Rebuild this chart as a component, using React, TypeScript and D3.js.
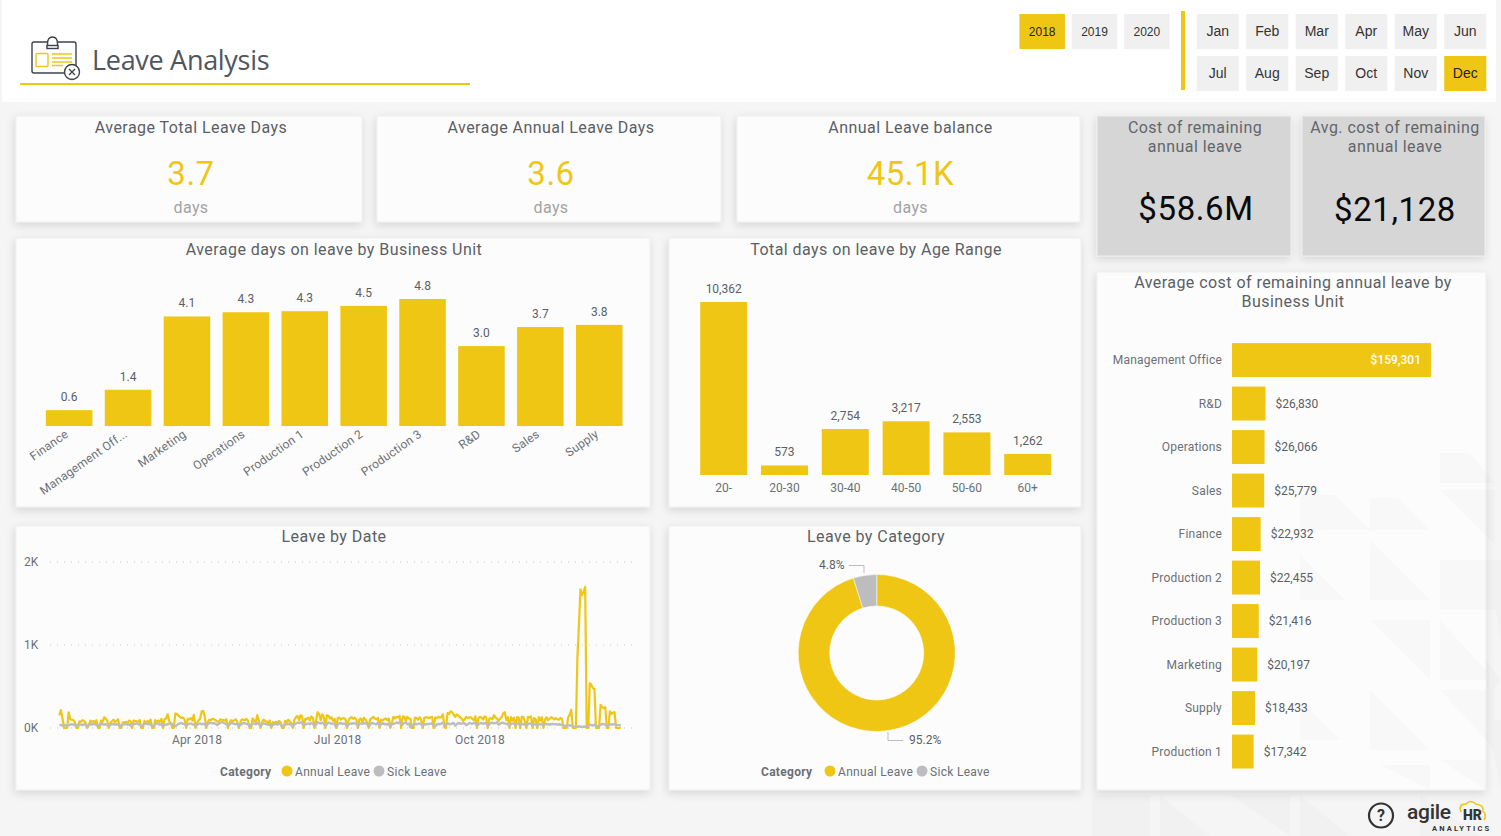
import React from 'react';
import * as d3 from 'd3';

const YELLOW = '#f0c614';
const GREY = '#bdbdbd';
const TEXT = '#5a5f66';
const LABEL = '#6b7076';
const FONT = 'Roboto, sans-serif';

const years = ['2018', '2019', '2020'];
const monthsTop = ['Jan', 'Feb', 'Mar', 'Apr', 'May', 'Jun'];
const monthsBottom = ['Jul', 'Aug', 'Sep', 'Oct', 'Nov', 'Dec'];

const units = ['Finance', 'Management Off...', 'Marketing', 'Operations', 'Production 1', 'Production 2', 'Production 3', 'R&D', 'Sales', 'Supply'];
const unitDays = [0.6, 1.37, 4.14, 4.3, 4.34, 4.54, 4.8, 3.02, 3.74, 3.82];

const ageRanges = ['20-', '20-30', '30-40', '40-50', '50-60', '60+'];
const ageDays = [10362, 573, 2754, 3217, 2553, 1262];

const costUnits = ['Management Office', 'R&D', 'Operations', 'Sales', 'Finance', 'Production 2', 'Production 3', 'Marketing', 'Supply', 'Production 1'];
const costValues = [159301, 26830, 26066, 25779, 22932, 22455, 21416, 20197, 18433, 17342];

const categories = ['Annual Leave', 'Sick Leave'];
const categoryShare = [95.2, 4.8];

const dateTicks = ['2018-04-01', '2018-07-01', '2018-10-01'];

// daily values from 2 Jan 2018, one row per week
const annualLeave = [
  150, 215, 120, 0, 0, 0,
  190, 105, 100, 95, 70, 0, 0,
  80, 75, 95, 85, 60, 0, 30,
  90, 75, 85, 60, 95, 0, 0,
  90, 75, 130, 110, 90, 0, 60,
  80, 100, 70, 85, 105, 0, 0,
  65, 70, 75, 60, 90, 80, 0,
  90, 85, 80, 75, 95, 0, 0,
  85, 60, 85, 70, 100, 0, 0,
  95, 70, 90, 75, 110, 0, 105,
  115, 165, 80, 60, 0, 0, 175,
  170, 150, 135, 120, 125, 100, 0,
  110, 105, 120, 90, 160, 0, 60,
  90, 110, 200, 205, 140, 0, 70,
  100, 95, 110, 105, 95, 80, 70,
  105, 100, 95, 90, 105, 0, 60,
  95, 85, 90, 105, 75, 0, 65,
  105, 100, 95, 110, 85, 0, 0,
  115, 90, 75, 155, 80, 0, 65,
  100, 85, 75, 55, 90, 0, 70,
  60, 75, 65, 85, 70, 0, 0,
  85, 70, 100, 75, 60, 0, 100,
  130, 145, 95, 155, 140, 0, 110,
  110, 125, 90, 140, 120, 0, 90,
  190, 170, 95, 165, 130, 0, 155,
  145, 115, 130, 85, 110, 0, 120,
  125, 100, 115, 120, 105, 0, 95,
  120, 130, 110, 125, 105, 0, 100,
  115, 70, 125, 100, 70, 0, 105,
  120, 135, 115, 105, 120, 0, 100,
  90, 105, 115, 95, 115, 0, 60,
  135, 115, 135, 125, 145, 0, 140,
  135, 90, 135, 115, 110, 0, 0,
  125, 120, 100, 130, 95, 0, 120,
  130, 125, 120, 130, 135, 0, 125,
  120, 135, 125, 130, 165, 10, 0,
  180, 170, 200, 190, 160, 135, 165,
  150, 130, 115, 85, 100, 135, 120,
  125, 130, 110, 95, 140, 0, 120,
  135, 125, 100, 140, 130, 0, 110,
  120, 105, 155, 125, 115, 85, 110,
  130, 175, 190, 95, 130, 0, 130,
  90, 125, 0, 130, 125, 0, 135,
  135, 80, 0, 135, 125, 140, 0,
  120, 105, 0, 130, 90, 130, 0,
  100, 130, 95, 110, 130, 120, 105,
  120, 105, 100, 120, 110, 0, 0,
  0, 130, 160, 220, 0, 0, 0,
  860, 1250, 1670, 1600, 1640, 1700, 0,
  0, 540, 520, 480, 470, 0, 0,
  0, 280, 250, 240, 250, 0, 0,
  200, 170, 185, 190, 0, 0, 0, 0,
];
const sickLeave = [
  35, 35, 30, 40, 30, 25,
  35, 40, 45, 40, 35, 25, 40,
  45, 40, 35, 45, 40, 20, 40,
  45, 40, 50, 45, 35, 25, 40,
  50, 45, 40, 45, 35, 25, 40,
  45, 50, 40, 45, 40, 20, 35,
  40, 45, 50, 40, 45, 30, 30,
  45, 50, 55, 45, 40, 25, 35,
  50, 55, 45, 50, 40, 25, 30,
  45, 55, 50, 40, 45, 20, 35,
  40, 45, 50, 55, 50, 30, 20,
  35, 50, 55, 60, 50, 45, 30,
  45, 50, 55, 45, 40, 25, 40,
  50, 55, 45, 50, 45, 25, 45,
  60, 65, 55, 60, 50, 35, 50,
  60, 70, 65, 55, 45, 30, 40,
  55, 60, 50, 45, 55, 25, 35,
  50, 60, 55, 50, 45, 20, 40,
  50, 55, 45, 60, 50, 25, 40,
  55, 50, 45, 40, 45, 15, 35,
  45, 50, 40, 55, 45, 20, 30,
  40, 45, 50, 45, 35, 20, 40,
  55, 65, 60, 70, 55, 30, 45,
  50, 55, 45, 60, 50, 20, 40,
  70, 60, 55, 65, 50, 25, 45,
  65, 60, 50, 55, 45, 15, 40,
  55, 60, 50, 55, 45, 20, 40,
  55, 50, 60, 55, 50, 25, 45,
  55, 50, 60, 55, 45, 20, 40,
  60, 55, 50, 45, 60, 25, 45,
  60, 45, 50, 40, 55, 20, 45,
  50, 55, 65, 60, 70, 55, 40,
  60, 70, 45, 55, 10, 30, 40,
  50, 45, 50, 55, 45, 25, 40,
  45, 50, 45, 55, 50, 30, 20,
  40, 50, 45, 55, 60, 30, 40,
  55, 50, 45, 55, 60, 30, 45,
  60, 55, 50, 60, 55, 35, 45,
  60, 55, 50, 65, 55, 30, 45,
  55, 60, 50, 60, 55, 30, 45,
  60, 65, 55, 60, 70, 40, 50,
  65, 60, 55, 50, 45, 25, 45,
  55, 50, 35, 50, 55, 30, 50,
  45, 40, 30, 45, 55, 50, 30,
  50, 40, 25, 50, 45, 40, 30,
  45, 50, 45, 40, 45, 50, 45,
  45, 40, 45, 40, 40, 30, 25,
  25, 35, 30, 30, 20, 15, 15,
  15, 20, 15, 15, 15, 15, 20,
  25, 40, 35, 30, 40, 25, 20,
  25, 40, 50, 45, 40, 25, 35,
  45, 40, 45, 45, 40, 35, 35, 30,
];

// faint triangles of the page background
const bgTriangles = [
  '1440,453 1470,453 1495,483 1440,483', '1370,498 1398,498 1430,530 1370,530', '1300,495 1335,495 1370,530 1300,530',
  '1370,540 1430,600 1370,600', '1440,490 1495,490 1495,545', '1440,560 1495,560 1495,610 1440,610',
  '1370,620 1430,620 1430,680', '1440,620 1495,680 1440,680', '1370,690 1430,750 1370,750',
  '1440,690 1495,690 1495,750', '1300,555 1345,600 1300,600', '1380,765 1430,765 1430,790',
  '1440,760 1486,760 1486,790', '1300,700 1340,740 1300,740', '1092,795 1150,795 1150,836 1092,836',
  '1160,795 1210,836 1160,836', '1230,795 1290,795 1290,836', '1300,795 1350,836 1300,836',
  '1420,795 1480,836 1420,836', '1486,560 1501,560 1501,640', '1486,660 1501,680 1486,700', '1486,720 1501,720 1501,790',
];

const Card = ({ x, y, w, h, fill = '#fcfcfc' }: { x: number; y: number; w: number; h: number; fill?: string }) => (
  <rect x={x} y={y} width={w} height={h} fill={fill} stroke="#eeeeee" strokeWidth={1} filter="url(#shadow)" />
);

const Title = ({ x, y, children, fill = TEXT, size = 16 }: any) => (
  <text x={x} y={y} textAnchor="middle" fontSize={size} fill={fill} letterSpacing={0.45}>{children}</text>
);

const Kpi = ({ x, w, title, value }: { x: number; w: number; title: string; value: string }) => (
  <g>
    <Card x={x} y={116} w={w} h={106} />
    <Title x={x + w / 2 + 2} y={133}>{title}</Title>
    <text x={x + w / 2 + 2} y={185} textAnchor="middle" fontSize={33} fill={YELLOW} letterSpacing={0.5}>{value}</text>
    <text x={x + w / 2 + 2} y={213} textAnchor="middle" fontSize={16} fill="#a3a3a3" letterSpacing={0.4}>days</text>
  </g>
);

const Button = ({ x, y, w, h, label, on, size }: any) => (
  <g>
    <rect x={x} y={y} width={w} height={h} fill={on ? YELLOW : '#f0f0f0'} />
    <text x={x + w / 2} y={y + h / 2 + (size > 12 ? 4 : 4.3)} textAnchor="middle" fontSize={size} fontFamily="'Liberation Sans', sans-serif" fill={on ? '#222' : '#333'}>{label}</text>
  </g>
);

const Legend = ({ x, y, shift = 0 }: { x: number; y: number; shift?: number }) => {
  const color = d3.scaleOrdinal<string, string>().domain(categories).range([YELLOW, GREY]);
  const offsets = [67 + shift, 159 + shift];
  return (
    <g fontSize={12} fill={LABEL}>
      <text x={x} y={y + 4.5} fontWeight={700} letterSpacing={0.3}>Category</text>
      {categories.map((c, i) => (
        <g key={c}>
          <circle cx={x + offsets[i]} cy={y} r={5.5} fill={color(c)} />
          <text x={x + offsets[i] + 8} y={y + 4.5} letterSpacing={0.3}>{c}</text>
        </g>
      ))}
    </g>
  );
};

export default function App() {
  // Average days by business unit
  const xUnit = d3.scaleBand<string>().domain(units).range([39.7, 628.7]).paddingInner(0.21).paddingOuter(0.105);
  const yUnit = d3.scaleLinear().domain([0, 4.8]).range([426, 299]);

  // Total days by age range
  const xAge = d3.scaleBand<string>().domain(ageRanges).range([693.3, 1058.1]).paddingInner(0.227).paddingOuter(0.113);
  const yAge = d3.scaleLinear().domain([0, 10362]).range([475, 302]);

  // Average cost by business unit
  const yCost = d3.scaleBand<string>().domain(costUnits).range([338.3, 773.3]).paddingInner(0.22).paddingOuter(0.11);
  const xCost = d3.scaleLinear().domain([0, 159301]).range([1232, 1431]);
  const fmtCost = (v: number) => '$' + d3.format(',')(v);

  // Leave by date
  const parse = d3.utcParse('%Y-%m-%d');
  const x0 = parse('2018-01-02') as Date;
  const dayDate = (i: number) => d3.utcDay.offset(x0, i);
  const xDate = d3.scaleUtc().domain([parse('2018-04-01') as Date, parse('2018-10-01') as Date]).range([197, 480]);
  const yLeave = d3.scaleLinear().domain([0, 2000]).range([728, 562]);
  const line = d3.line<number>().x((_, i) => xDate(dayDate(i))).y(d => yLeave(d));
  const fmtTick = d3.utcFormat('%b %Y');

  // Leave by category
  const pie = d3.pie<number>().sort(null).value(d => d);
  const arc = d3.arc<d3.PieArcDatum<number>>().innerRadius(47).outerRadius(78.5);

  // Slicers
  const xYear = d3.scaleBand<string>().domain(years).range([1016, 1173]).paddingInner(0.13).paddingOuter(0.065);
  const xMonth = d3.scaleBand<string>().domain(monthsTop).range([1193, 1490]).paddingInner(0.15).paddingOuter(0.075);
  const xMonth2 = d3.scaleBand<string>().domain(monthsBottom).range([1193, 1490]).paddingInner(0.15).paddingOuter(0.075);

  return (
    <svg width={1501} height={836} fontFamily={FONT} style={{ position: 'absolute', left: 0, top: 0, display: 'block' }}>
      <defs>
        <filter id="shadow" x="-10%" y="-10%" width="120%" height="125%">
          <feDropShadow dx={-1} dy={3} stdDeviation={4} floodColor="#000" floodOpacity={0.13} />
        </filter>
      </defs>
      <rect width={1501} height={836} fill="#f5f5f5" />
      <rect x={2} width={1494} height={102} fill="#ffffff" />

      {/* header */}
      <g fill="none" stroke="#3f4348" strokeWidth={1.4}>
        <rect x={32} y={42} width={44} height={31} rx={2} />
        <path d="M47.5 48 L47.5 44 Q47.5 37 52.5 37 Q57.5 37 57.5 44 L57.5 48 Z" fill="#fff" />
        <rect x={47} y={45.5} width={11} height={3} fill="#fff" />
        <rect x={36} y={53.5} width={12} height={13} stroke={YELLOW} rx={1} />
        <path d="M52 54 H72 M52 58 H72 M52 62 H72 M52 65.5 H63" stroke={YELLOW} />
        <circle cx={72} cy={72} r={7.5} fill="#fff" />
        <path d="M69 69 L75 75 M75 69 L69 75" />
      </g>
      <text x={92} y={70} fontSize={27} fontFamily="'Open Sans', sans-serif" fill="#4f565e" letterSpacing={-0.3}>Leave Analysis</text>
      <rect x={20} y={83} width={450} height={2} fill={YELLOW} />

      {years.map((y, i) => <Button key={y} x={xYear(y)} y={14} w={xYear.bandwidth()} h={35} label={y} on={i === 0} size={12} />)}
      <rect x={1181} y={11} width={4} height={79} fill={YELLOW} />
      {monthsTop.map(m => <Button key={m} x={xMonth(m)} y={14} w={xMonth.bandwidth()} h={35} label={m} on={false} size={14} />)}
      {monthsBottom.map(m => <Button key={m} x={xMonth2(m)} y={56} w={xMonth2.bandwidth()} h={35} label={m} on={m === 'Dec'} size={14} />)}

      {/* KPI cards */}
      <Kpi x={16} w={346} title="Average Total Leave Days" value="3.7" />
      <Kpi x={377} w={344} title="Average Annual Leave Days" value="3.6" />
      <Kpi x={737} w={343} title="Annual Leave balance" value="45.1K" />

      <Card x={1097} y={116} w={194} h={140} fill="#d6d6d6" />
      <Title x={1195} y={133} fill="#62666b">Cost of remaining</Title>
      <Title x={1195} y={152} fill="#62666b">annual leave</Title>
      <text x={1196} y={220} textAnchor="middle" fontSize={33} fill="#0a0a0a" letterSpacing={0.6}>$58.6M</text>

      <Card x={1302} y={116} w={183} h={140} fill="#d6d6d6" />
      <Title x={1395} y={133} fill="#62666b">Avg. cost of remaining</Title>
      <Title x={1395} y={152} fill="#62666b">annual leave</Title>
      <text x={1395} y={221} textAnchor="middle" fontSize={33} fill="#0a0a0a" letterSpacing={0.6}>$21,128</text>

      {/* Average days on leave by Business Unit */}
      <Card x={16} y={238} w={634} h={269} />
      <Title x={334} y={255}>Average days on leave by Business Unit</Title>
      {units.map((u, i) => (
        <g key={u}>
          <rect x={xUnit(u)} y={yUnit(unitDays[i])} width={xUnit.bandwidth()} height={yUnit(0) - yUnit(unitDays[i])} fill={YELLOW} />
          <text x={(xUnit(u) as number) + xUnit.bandwidth() / 2} y={yUnit(unitDays[i]) - 9} textAnchor="middle" fontSize={12} fill={TEXT}>{d3.format('.1f')(unitDays[i])}</text>
          <text transform={`translate(${(xUnit(u) as number) + xUnit.bandwidth() / 2},436) rotate(-35)`} textAnchor="end" fontSize={12} fill={LABEL} letterSpacing={0.2}>{u}</text>
        </g>
      ))}

      {/* Total days on leave by Age Range */}
      <Card x={669} y={238} w={412} h={269} />
      <Title x={876} y={255}>Total days on leave by Age Range</Title>
      {ageRanges.map((a, i) => (
        <g key={a}>
          <rect x={xAge(a)} y={yAge(ageDays[i])} width={xAge.bandwidth()} height={yAge(0) - yAge(ageDays[i])} fill={YELLOW} />
          <text x={(xAge(a) as number) + xAge.bandwidth() / 2} y={yAge(ageDays[i]) - 9} textAnchor="middle" fontSize={12} fill={TEXT}>{d3.format(',')(ageDays[i])}</text>
          <text x={(xAge(a) as number) + xAge.bandwidth() / 2} y={492} textAnchor="middle" fontSize={12} fill={LABEL}>{a}</text>
        </g>
      ))}

      {/* Leave by Date */}
      <Card x={16} y={526} w={634} h={264} />
      <Title x={334} y={542}>Leave by Date</Title>
      {yLeave.ticks(2).map(t => (
        <g key={t}>
          <line x1={50} x2={632} y1={yLeave(t)} y2={yLeave(t)} stroke="#c8c8c8" strokeWidth={1} strokeDasharray="1 6" />
          <text x={24} y={yLeave(t) + 4} fontSize={12} fill={LABEL}>{t / 1000}K</text>
        </g>
      ))}
      {dateTicks.map(t => (
        <text key={t} x={xDate(parse(t) as Date)} y={744} textAnchor="middle" fontSize={12} fill={LABEL} letterSpacing={0.2}>{fmtTick(parse(t) as Date)}</text>
      ))}
      <path d={line(annualLeave) as string} fill="none" stroke={YELLOW} strokeWidth={2.2} strokeLinejoin="round" />
      <path d={line(sickLeave) as string} fill="none" stroke={GREY} strokeWidth={2.4} strokeLinejoin="round" />
      <Legend x={220} y={771} />

      {/* Leave by Category */}
      <Card x={669} y={526} w={412} h={264} />
      <Title x={876} y={542}>Leave by Category</Title>
      <g transform="translate(876.7,653)">
        {pie(categoryShare).map((s, i) => (
          <path key={categories[i]} d={arc(s) as string} fill={i === 0 ? YELLOW : GREY} stroke="#fcfcfc" strokeWidth={0.5} />
        ))}
      </g>
      <path d="M849 565.5 H864 V573" fill="none" stroke={GREY} />
      <path d="M888 732 V740.5 H903" fill="none" stroke={GREY} />
      <text x={819} y={569} fontSize={12} fill={TEXT}>{categoryShare[1]}%</text>
      <text x={909} y={744} fontSize={12} fill={TEXT}>{categoryShare[0]}%</text>
      <Legend x={761} y={771} shift={2} />

      {/* Average cost by Business Unit */}
      <Card x={1097} y={272} w={389} h={518} />
      <Title x={1293} y={288}>Average cost of remaining annual leave by</Title>
      <Title x={1293} y={307}>Business Unit</Title>
      {costUnits.map((u, i) => {
        const cy = (yCost(u) as number) + yCost.bandwidth() / 2;
        const inside = i === 0;
        return (
          <g key={u}>
            <text x={1222} y={cy + 4} textAnchor="end" fontSize={12} fill={LABEL} letterSpacing={0.2}>{u}</text>
            <rect x={xCost(0)} y={yCost(u)} width={xCost(costValues[i]) - xCost(0)} height={yCost.bandwidth()} fill={YELLOW} />
            <text x={inside ? xCost(costValues[i]) - 10 : xCost(costValues[i]) + 10} y={cy + 4} textAnchor={inside ? 'end' : 'start'} fontSize={12} fontWeight={inside ? 500 : 400} fill={inside ? '#ffffff' : TEXT}>{fmtCost(costValues[i])}</text>
          </g>
        );
      })}

      {/* page texture */}
      <g fill="#000" opacity={0.012}>
        {bgTriangles.map(p => <polygon key={p} points={p} />)}
      </g>

      {/* help + logo */}
      <circle cx={1381} cy={815.5} r={12} fill="none" stroke="#333" strokeWidth={2.2} />
      <text x={1381} y={821} textAnchor="middle" fontSize={16} fontWeight={700} fill="#333">?</text>
      <path d="M1461 812 Q1458 804 1466 804 Q1470 799 1476 804 Q1484 805 1483 811 Q1487 815 1484 820" fill="none" stroke={YELLOW} strokeWidth={1.6} />
      <text x={1407} y={819} fontSize={21} fontWeight={500} fill="#333" letterSpacing={-0.3}>agile</text>
      <text x={1463} y={820} fontSize={14} fontWeight={900} fill="#333">HR</text>
      <text x={1432} y={831} fontSize={7.5} fontWeight={700} fill="#333" letterSpacing={2.2}>ANALYTICS</text>
    </svg>
  );
}
